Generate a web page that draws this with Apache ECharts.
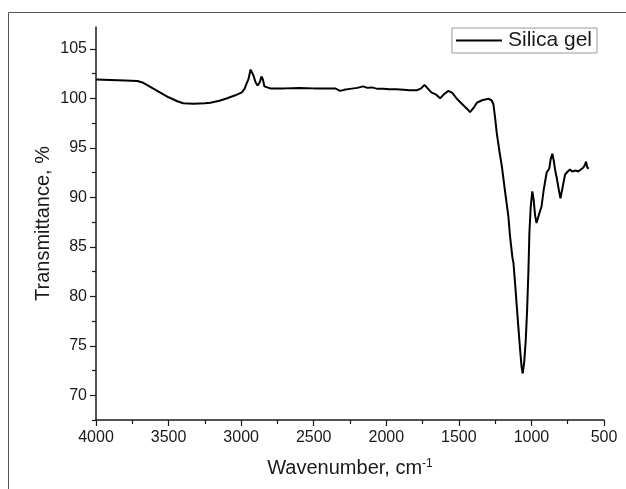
<!DOCTYPE html>
<html>
<head>
<meta charset="utf-8">
<script src="https://cdn.jsdelivr.net/npm/echarts@6/dist/echarts.min.js"></script>
<style>
  html, body { margin: 0; padding: 0; background: #fff; }
  #chart { width: 626px; height: 489px; }
</style>
</head>
<body>
<div id="chart"></div>
<script>
// FTIR spectrum of silica gel
const wavenumber = [
  4000, 3900, 3800, 3715, 3680, 3620, 3560, 3500, 3440, 3399, 3330, 3250, 3212, 3150, 3096,
  3040, 2995, 2975, 2965, 2950, 2935, 2928, 2915, 2900, 2887, 2872, 2860, 2850, 2840, 2834,
  2800, 2700, 2600, 2500, 2455, 2400, 2352, 2318, 2290, 2250, 2200, 2159, 2130, 2100, 2060,
  2022, 1980, 1930, 1880, 1840, 1790, 1760, 1737, 1715, 1690, 1660, 1629, 1600, 1572, 1545,
  1514, 1490, 1469, 1445, 1423, 1400, 1376, 1340, 1297, 1275, 1262, 1250, 1239, 1220, 1204,
  1180, 1159, 1147, 1130, 1124, 1110, 1101, 1088, 1078, 1068, 1060, 1050, 1039, 1030, 1021,
  1014, 1005, 994, 985, 975, 965, 955, 945, 930, 915, 895, 885, 877, 868, 856,
  845, 835, 826, 812, 800, 790, 780, 768, 750, 734, 720, 711, 695, 677, 660,
  642, 630, 624, 615, 605
];
const transmittance = [
  101.9, 101.85, 101.8, 101.75, 101.6, 101.1, 100.6, 100.1, 99.7, 99.5, 99.45, 99.5, 99.55, 99.75, 100.0,
  100.3, 100.6, 101.0, 101.4, 101.9, 102.9, 103.0, 102.3, 101.6, 101.3, 101.6, 102.2, 101.9, 101.2, 101.05,
  101.0, 101.0, 101.05, 101.0, 101.0, 101.0, 101.0, 100.75, 100.85, 100.95, 101.05, 101.2, 101.05, 101.1, 100.95,
  100.95, 100.9, 100.9, 100.85, 100.8, 100.8, 101.0, 101.35, 101.0, 100.6, 100.4, 100.0, 100.45, 100.75, 100.55,
  99.95, 99.6, 99.3, 98.95, 98.6, 99.0, 99.55, 99.8, 99.95, 99.8, 99.4, 98.0, 96.5, 94.6, 93.15,
  90.4, 88.1, 86.0, 83.8, 83.4, 80.8, 79.0, 76.5, 74.6, 72.9, 72.2, 73.3, 75.6, 78.5, 82.4,
  86.4, 89.0, 90.6, 89.8, 88.2, 87.4, 87.6, 88.4, 89.1, 90.8, 92.5, 92.7, 92.9, 93.8, 94.4,
  93.6, 92.6, 92.0, 90.8, 89.9, 90.1, 91.4, 92.3, 92.6, 92.8, 92.6, 92.5, 92.7, 92.6, 92.8,
  93.0, 93.3, 93.6, 93.0, 92.9
];
const seriesName = "Silica gel";
const yMajorTicks = [70, 75, 80, 85, 90, 95, 100, 105];
const yMinorTicks = [67.5, 72.5, 77.5, 82.5, 87.5, 92.5, 97.5, 102.5];

(function () {
  const chart = echarts.init(document.getElementById("chart"));
  const font = "'Liberation Sans', Arial, sans-serif";
  const ink = "#1a1a1a";
  const yMin = 67.5, yMax = 107.2;

  const points = wavenumber.map((w, i) => [w, transmittance[i]]);

  chart.setOption({
    animation: false,
    textStyle: { fontFamily: font, color: ink },
    grid: { left: 96, right: 22, top: 27, bottom: 69 },
    legend: {
      right: 29,
      top: 28,
      data: [seriesName],
      icon: "rect",
      itemWidth: 46,
      itemHeight: 2,
      itemGap: 0,
      padding: [2, 5, 2, 4],
      borderColor: "#999",
      borderWidth: 1,
      textStyle: { fontFamily: font, fontSize: 21, color: ink, padding: [0, 0, 0, 1] },
    },
    graphic: [
      {
        type: "rect",
        shape: { x: 8.5, y: 12.5, width: 700, height: 600 },
        style: { fill: null, stroke: "#555", lineWidth: 1 },
        silent: true,
      },
    ],
    xAxis: {
      type: "value",
      inverse: true,
      min: 500,
      max: 4000,
      interval: 500,
      name: "Wavenumber, cm{sup|-1}",
      nameLocation: "middle",
      nameGap: 38,
      nameMoveOverlap: false,
      nameTextStyle: {
        fontFamily: font,
        fontSize: 20,
        color: ink,
        rich: { sup: { fontSize: 12, fontFamily: font, color: ink, padding: [0, 0, 9, 0] } },
      },
      axisLine: { onZero: false, lineStyle: { color: ink, width: 1.5 } },
      axisTick: { inside: false, length: 6, lineStyle: { color: ink, width: 1.2 } },
      minorTick: { show: true, splitNumber: 2, length: 4, lineStyle: { color: ink, width: 1.2 } },
      axisLabel: { fontFamily: font, fontSize: 16, color: ink, margin: 10, formatter: (v) => String(v) },
      splitLine: { show: false },
    },
    yAxis: [
      {
        type: "value",
        min: yMin,
        max: yMax,
        name: "Transmittance, %",
        nameLocation: "middle",
        nameGap: 43,
        nameMoveOverlap: false,
        nameTextStyle: { fontFamily: font, fontSize: 20, color: ink },
        axisLine: { show: true, lineStyle: { color: ink, width: 1.5 } },
        axisTick: { show: true, length: 6, customValues: yMajorTicks, lineStyle: { color: ink, width: 1.2 } },
        axisLabel: { customValues: yMajorTicks, fontFamily: font, fontSize: 16, color: ink, margin: 9 },
        splitLine: { show: false },
      },
      {
        type: "value",
        min: yMin,
        max: yMax,
        position: "left",
        axisLine: { show: false },
        axisTick: { show: true, length: 4, customValues: yMinorTicks, lineStyle: { color: ink, width: 1.2 } },
        axisLabel: { show: false },
        splitLine: { show: false },
      },
    ],
    series: [
      {
        name: seriesName,
        type: "line",
        data: points,
        showSymbol: false,
        symbol: "none",
        color: "#000",
        lineStyle: { color: "#000", width: 2 },
      },
    ],
  });
})();
</script>
</body>
</html>
